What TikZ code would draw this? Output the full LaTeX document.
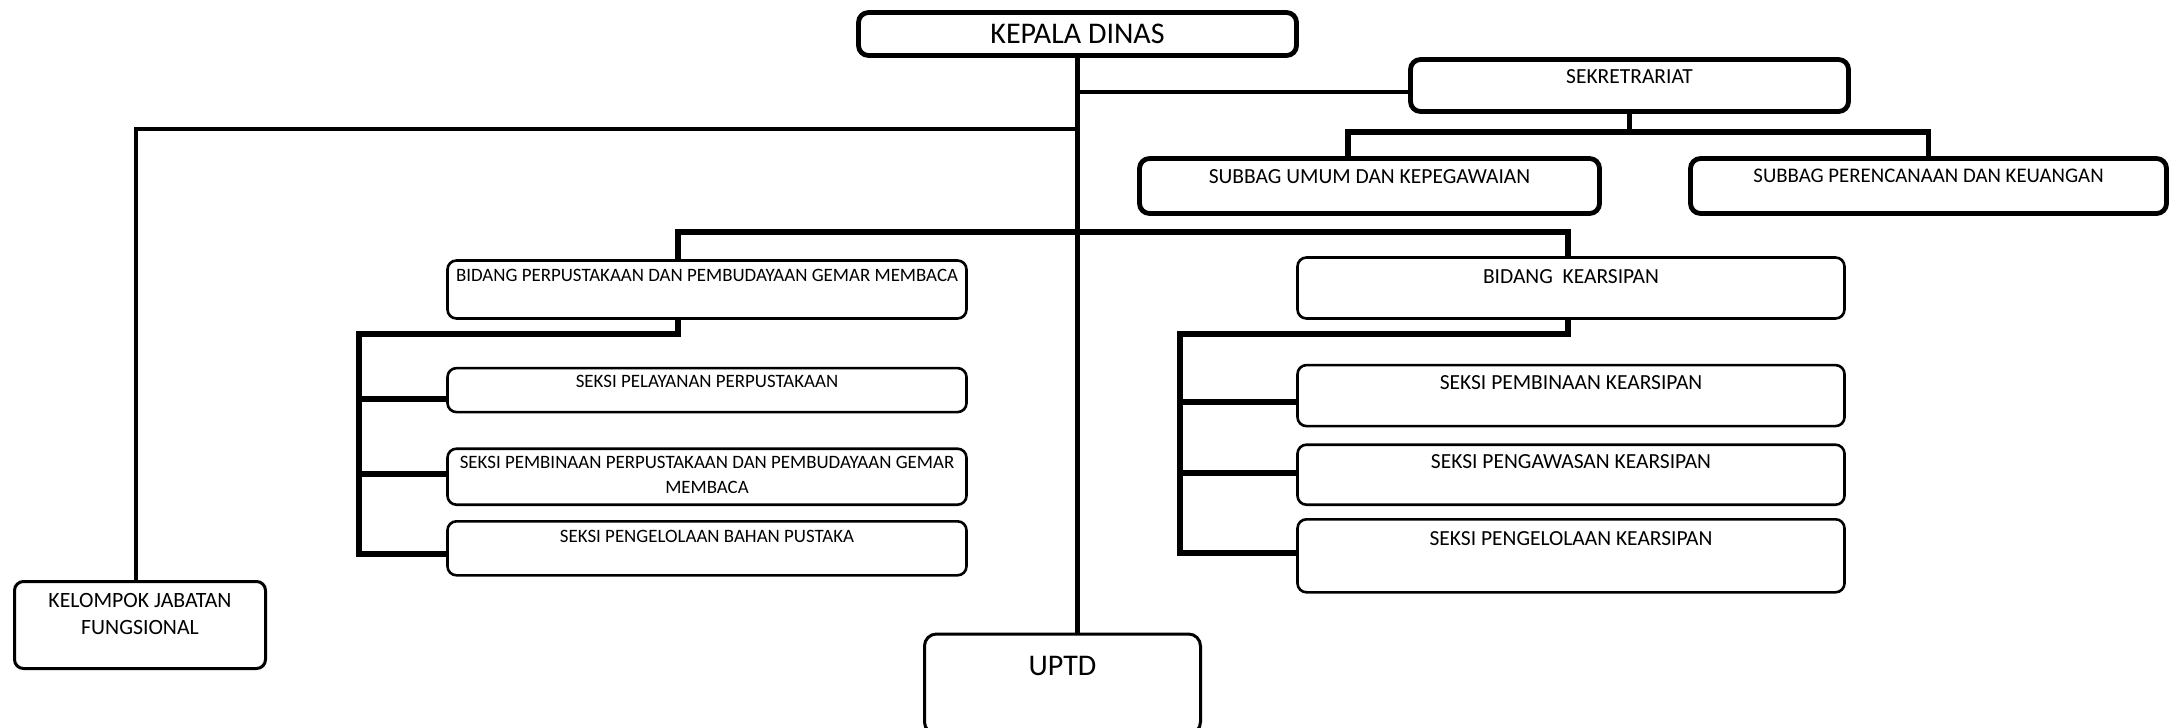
\documentclass[tikz,border=0pt]{standalone}
\usepackage{fontspec}
\setmainfont{Carlito}
\usetikzlibrary{positioning}

\tikzset{
  unit/.style={draw, rounded corners=9pt, line width=2.6pt, inner sep=0pt},
  headunit/.style={unit, line width=4.8pt, rounded corners=10pt},
  txt/.style={anchor=north, inner sep=0pt, align=center, yshift=-#1},
  bigfont/.style={font=\fontsize{30}{34}\selectfont},
  midfont/.style={font=\fontsize{21.5}{27}\selectfont},
  smallfont/.style={font=\fontsize{18.9}{25}\selectfont},
  trunk/.style={line width=4.5pt},
  bus/.style={line width=6pt},
  twig/.style={line width=5.5pt}
}

\begin{document}
\begin{tikzpicture}[x=1pt,y=-1pt]
  \useasboundingbox (0,0) rectangle (2180,728);

  % pimpinan dan sekretariat
  \node[headunit, minimum width=438pt, minimum height=43pt,
        label={[txt=14pt, bigfont]north:KEPALA DINAS}] (kadis) at (1077.5,34) {};
  \node[headunit, minimum width=438pt, minimum height=52pt,
        label={[txt=12pt, midfont]north:SEKRETRARIAT}] (sekre) at (1629.5,85.5) {};
  \node[headunit, minimum width=460pt, minimum height=55pt,
        label={[txt=13pt, midfont]north:SUBBAG UMUM DAN KEPEGAWAIAN}] (umum) at (1369.5,186) {};
  \node[headunit, minimum width=476pt, minimum height=55pt,
        label={[txt=13pt, font=\fontsize{20.8}{27}\selectfont]north:SUBBAG PERENCANAAN DAN KEUANGAN}] (renc) at (1928.5,186) {};

  % bidang perpustakaan
  \node[unit, minimum width=519pt, minimum height=58pt,
        label={[txt=10pt, smallfont]north:BIDANG PERPUSTAKAAN DAN PEMBUDAYAAN GEMAR MEMBACA}] (bidP) at (707,289.5) {};
  \node[unit, minimum width=519pt, minimum height=44pt, below=47pt of bidP,
        label={[txt=8pt, smallfont]north:SEKSI PELAYANAN PERPUSTAKAAN}] (sp1) {};
  \node[unit, minimum width=519pt, minimum height=56pt, below=34pt of sp1,
        label={[txt=9pt, smallfont]north:SEKSI PEMBINAAN PERPUSTAKAAN DAN PEMBUDAYAAN GEMAR\\MEMBACA}] (sp2) {};
  \node[unit, minimum width=519pt, minimum height=54pt, below=14pt of sp2,
        label={[txt=10pt, smallfont]north:SEKSI PENGELOLAAN BAHAN PUSTAKA}] (sp3) {};

  % bidang kearsipan
  \node[unit, minimum width=547pt, minimum height=61pt,
        label={[txt=13pt, midfont]north:BIDANG~~KEARSIPAN}] (bidK) at (1571,288) {};
  \node[unit, minimum width=547pt, minimum height=61pt, below=44pt of bidK,
        label={[txt=12pt, midfont]north:SEKSI PEMBINAAN KEARSIPAN}] (sk1) {};
  \node[unit, minimum width=547pt, minimum height=60pt, below=16pt of sk1,
        label={[txt=11pt, midfont]north:SEKSI PENGAWASAN KEARSIPAN}] (sk2) {};
  \node[unit, minimum width=547pt, minimum height=73pt, below=12pt of sk2,
        label={[txt=13pt, midfont]north:SEKSI PENGELOLAAN KEARSIPAN}] (sk3) {};

  % fungsional dan uptd
  \node[unit, line width=3pt, minimum width=251pt, minimum height=87pt,
        label={[txt=13pt, font=\fontsize{21.8}{27}\selectfont]north:KELOMPOK JABATAN\\FUNGSIONAL}] (kjf) at (140,625) {};
  \node[unit, line width=3pt, rounded corners=12pt, minimum width=276pt, minimum height=100pt,
        label={[txt=24pt, bigfont]north:UPTD}] (uptd) at (1062.5,684) {};

  \coordinate (pbar) at (359,334);
  \coordinate (kbar) at (1180,334);

  % garis komando
  \draw[trunk] (kadis.south) -- (uptd.north -| kadis.south);
  \draw[trunk] (kadis.south |- 0,92) -- (sekre.west |- 0,92);
  \draw[trunk] (kadis.south |- 0,129) -| ([xshift=-4pt]kjf.north);
  \draw[trunk] (sekre.south) -- (sekre.south |- 0,132);
  \draw[trunk, line width=5.5pt] ([xshift=-21.5pt]umum.north) |- (renc.north |- 0,132) -- (renc.north);
  \draw[bus] ([xshift=-29pt]bidP.north) |- ([xshift=-3pt]bidK.north |- 0,232) -- ([xshift=-3pt]bidK.north);

  \draw[bus] ([xshift=-29pt]bidP.south) |- (pbar) -- (pbar |- 0,554) -- (sp3.west |- 0,554);
  \foreach \seksi/\yy in {sp1/399, sp2/474}
    \draw[twig] (pbar |- 0,\yy) -- (\seksi.west |- 0,\yy);

  \draw[bus] ([xshift=-3pt]bidK.south) |- (kbar) -- (kbar |- 0,553) -- (sk3.west |- 0,553);
  \foreach \seksi/\yy in {sk1/402, sk2/473}
    \draw[twig] (kbar |- 0,\yy) -- (\seksi.west |- 0,\yy);
\end{tikzpicture}
\end{document}
